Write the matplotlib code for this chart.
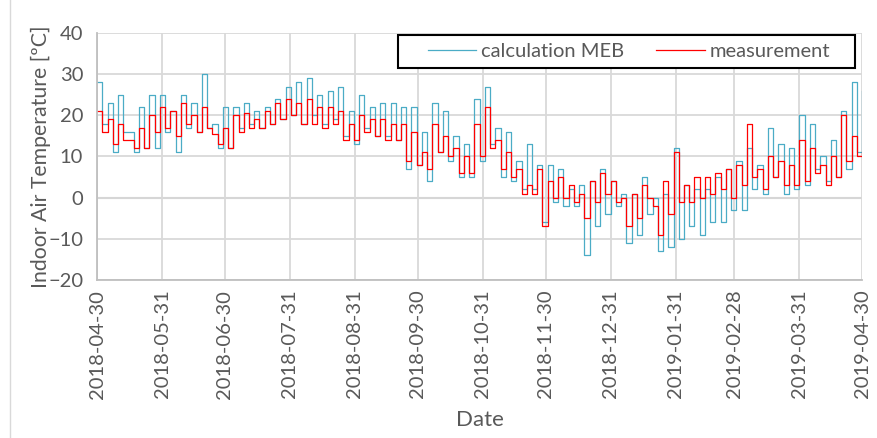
import numpy as np
import matplotlib.pyplot as plt
import matplotlib.dates as mdates
from matplotlib.lines import Line2D
from matplotlib.patches import Rectangle

# 5-day windows starting 2018-04-30; upper / lower envelope
start = np.datetime64("2018-04-30")
window_days = 5

calc_hi = [28, 23, 25, 16, 22, 25, 25, 21, 25, 23, 30, 18, 22, 22, 23, 21, 22, 24,
           27, 28, 29, 25, 26, 27, 21, 25, 22, 23, 23, 22, 22, 16, 23, 21, 15, 13,
           24, 27, 17, 16, 9, 13, 8, 8, 7, 2, 3, 4, 7, 4, 1, 1, 5, 0, 1, 12, 3, 2,
           2, 5, 7, 9, 12, 8, 17, 13, 12, 20, 18, 10, 14, 21, 28]
calc_lo = [18, 11, 16, 11, 12, 12, 16, 11, 17, 16, 17, 12, 12, 17, 18, 17, 18, 19,
           20, 18, 20, 18, 19, 15, 13, 17, 15, 15, 14, 7, 8, 4, 11, 9, 5, 5,
           9, 13, 5, 4, 2, 2, -6, -1, -2, -2, -14, -7, -4, -2, -11, -9, -4, -13, -12,
           -10, -7, -9, -6, -6, -3, -3, 2, 1, 5, 1, 2, 3, 7, 4, 5, 7, 11]
meas_hi = [21, 19, 18, 14, 17, 20, 22, 21, 23, 20, 22, 15.5, 17, 20, 20.5, 19, 21, 23,
           24, 23, 24, 22, 22, 21, 18, 20, 19, 19, 18, 18, 16, 11, 18, 15, 12, 10,
           18, 22, 14, 11, 7, 3, 7, 4, 5, 3, 1, 4, 6, 4, 0, 1, 3, -2, 4, 11, 3, 5,
           5, 6, 7, 8, 18, 7, 10, 9, 8, 14, 12, 8, 10, 20, 15]
meas_lo = [16, 13, 14, 12, 12, 16, 17, 15, 18, 16, 17, 13, 12, 16, 17, 17, 18, 19,
           20, 18, 18, 17, 18, 14, 14, 16, 15, 14, 14, 9, 8, 7, 11, 10, 6, 6,
           10, 12, 7, 5, 1, 1, -7, 0, 0, -1, -5, -1, 1, -1, -7, -5, 0, -9, -4,
           -1, -1, 0, 1, 2, 0, 3, 5, 2, 5, 3, 3, 4, 6, 3, 5, 9, 10]
calc_end = 26
meas_end = 11

tick_dates = ["2018-04-30", "2018-05-31", "2018-06-30", "2018-07-31", "2018-08-31",
              "2018-09-30", "2018-10-31", "2018-11-30", "2018-12-31", "2019-01-31",
              "2019-02-28", "2019-03-31", "2019-04-30"]


def zigzag(hi, lo, end_val):
    # alternate high / low inside each window, stepped like the original hourly trace
    xs, ys = [], []
    for i, (h, l) in enumerate(zip(hi, lo)):
        d0 = start + np.timedelta64(i * window_days * 24, "h")
        d1 = d0 + np.timedelta64(window_days * 12, "h")
        xs += [d0, d1]
        ys += [h, l]
    xs.append(np.datetime64("2019-04-30T00"))
    ys.append(end_val)
    return np.array(xs, dtype="datetime64[h]").astype("datetime64[ms]").tolist(), ys


plt.rcParams["font.family"] = ["Lato", "DejaVu Sans"]
grey = "#595959"

fig = plt.figure(figsize=(8.78, 4.38), dpi=100)
ax = fig.add_axes([0.1105, 0.3607, 0.8715, 0.564])

cx, cy = zigzag(calc_hi, calc_lo, calc_end)
mx, my = zigzag(meas_hi, meas_lo, meas_end)
ax.plot(cx, cy, color="#4BACC6", lw=0.9, drawstyle="steps-post", label="calculation MEB")
ax.plot(mx, my, color="#FF0000", lw=0.9, drawstyle="steps-post", label="measurement")

ticks = [np.datetime64(t).astype("datetime64[ms]").tolist() for t in tick_dates]
ax.set_xlim(ticks[0], ticks[-1])
ax.set_xticks(ticks)
ax.xaxis.set_major_formatter(mdates.DateFormatter("%Y-%m-%d"))
ax.set_ylim(-20, 40)
ax.set_yticks(range(-20, 41, 10))

ax.grid(True, color="#D9D9D9", lw=1.3)
ax.axhline(0, color="#BFBFBF", lw=1.5, zorder=1.5)
for s in ["top", "right"]:
    ax.spines[s].set_visible(False)
for s in ["left", "bottom"]:
    ax.spines[s].set_color("#BFBFBF")
    ax.spines[s].set_linewidth(1.3)
ax.tick_params(length=0, colors=grey, labelsize=14.5)
ax.tick_params(axis="x", rotation=90, pad=7)
ax.tick_params(axis="y", pad=10)

ax.set_ylabel("Indoor Air Temperature [ºC]", color=grey, fontsize=15.3, labelpad=-2)
ax.set_xlabel("Date", color=grey, fontsize=16, labelpad=8)

# legend box drawn separately so it can be wider than the entries, as in the original
ax.add_patch(Rectangle((0.3935, 0.8583), 0.5973, 0.1336, transform=ax.transAxes,
                       facecolor="white", edgecolor="black", lw=1.5, zorder=4))
leg = ax.legend(loc="center", bbox_to_anchor=(0.695, 0.925), ncol=2, fontsize=14.5,
                frameon=False, handlelength=2.4, handletextpad=0.25, columnspacing=1.6,
                borderpad=0.2)
leg.set_zorder(5)
for t in leg.get_texts():
    t.set_color(grey)

fig.add_artist(Line2D([10 / 878, 10 / 878], [0, 1], color="#D9D9D9", lw=1.0))

fig.savefig("out.png", dpi=100)
